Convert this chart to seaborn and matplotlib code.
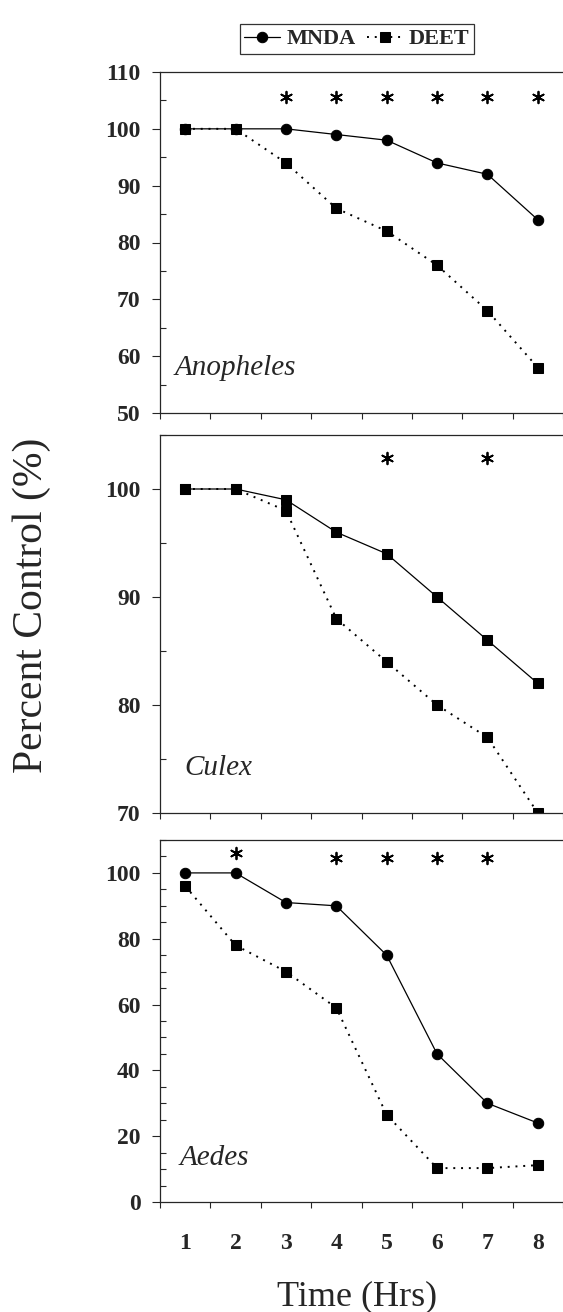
import numpy as np
import matplotlib
matplotlib.use('Agg')
import matplotlib.pyplot as plt
from matplotlib.ticker import MultipleLocator, FixedLocator
import seaborn as sns

# data
hours = [1, 2, 3, 4, 5, 6, 7, 8]

anopheles_mnda = [100, 100, 100, 99, 98, 94, 92, 84]
anopheles_deet = [100, 100, 94, 86, 82, 76, 68, 58]
anopheles_sig = [3, 4, 5, 6, 7, 8]

culex_mnda = [100, 100, 99, 96, 94, 90, 86, 82]
culex_deet = [100, 100, 98, 88, 84, 80, 77, 70]
culex_sig = [5, 7]

aedes_mnda = [100, 100, 91, 90, 75, 45, 30, 24]
aedes_deet = [96, 78, 70, 59, 26.5, 10.3, 10.3, 11.2]
aedes_sig = [2, 4, 5, 6, 7]

sns.set_style('ticks')
plt.rcParams['font.family'] = ['Liberation Serif', 'DejaVu Serif']
plt.rcParams['axes.linewidth'] = 0.9

W, H = 563, 1312
fig = plt.figure(figsize=(W / 100, H / 100), dpi=100)


def box(top, bottom, left=160, right=563):
    return [left / W, 1 - bottom / H, (right - left) / W, (bottom - top) / H]


panels = [
    dict(name='Anopheles', mnda=anopheles_mnda, deet=anopheles_deet, sig=anopheles_sig,
         sig_y=105.6, ylim=(50, 110), major=10, box=box(72, 413), mnda_marker='o',
         label_xy=(0.78, 58)),
    dict(name='Culex', mnda=culex_mnda, deet=culex_deet, sig=culex_sig,
         sig_y=102.9, ylim=(70, 105), major=10, box=box(435, 813), mnda_marker='s',
         label_xy=(0.98, 74.2)),
    dict(name='Aedes', mnda=aedes_mnda, deet=aedes_deet, sig=aedes_sig,
         sig_y=104.5, ylim=(0, 110), major=20, box=box(840, 1202), mnda_marker='o',
         label_xy=(0.88, 13.5)),
]

handles = None
for i, p in enumerate(panels):
    ax = fig.add_axes(p['box'])
    sns.lineplot(x=hours, y=p['mnda'], ax=ax, color='black', linewidth=0.9,
                 linestyle='-', marker=p['mnda_marker'],
                 markersize=7.5 if p['mnda_marker'] == 'o' else 7,
                 markeredgecolor='black', label='MNDA', legend=False)
    sns.lineplot(x=hours, y=p['deet'], ax=ax, color='black', linewidth=1.4,
                 linestyle=(0, (1, 3)), marker='s', markersize=7,
                 markeredgecolor='black', label='DEET', legend=False)
    if i == 2:
        # asterisk over hour 2 sits a bit higher
        ys = [106 if h == 2 else p['sig_y'] for h in p['sig']]
    else:
        ys = [p['sig_y']] * len(p['sig'])
    ax.scatter(p['sig'], ys, marker=(6, 2, 0), s=70, color='black',
               linewidths=1.3, zorder=5)

    ax.set_xlim(0.5, 8.5)
    ax.set_ylim(*p['ylim'])
    ax.yaxis.set_major_locator(MultipleLocator(p['major']))
    ax.yaxis.set_minor_locator(MultipleLocator(5))
    ax.tick_params(axis='y', which='major', direction='out', length=6, width=0.8,
                   pad=8, labelsize=17)
    ax.tick_params(axis='y', which='minor', direction='in', length=4, width=0.8)
    ax.xaxis.set_major_locator(FixedLocator(hours))
    ax.xaxis.set_minor_locator(FixedLocator(np.arange(0.5, 9, 1)))
    ax.tick_params(axis='x', which='major', length=0, pad=22, labelsize=17)
    ax.tick_params(axis='x', which='minor', direction='out', length=4, width=0.8)
    for lab in ax.get_yticklabels() + ax.get_xticklabels():
        lab.set_fontweight('bold')
    if i < 2:
        ax.set_xticklabels([])
    ax.spines['right'].set_visible(False)
    ax.set_xlabel('')
    ax.set_ylabel('')
    ax.text(p['label_xy'][0], p['label_xy'][1], p['name'], fontsize=21,
            style='italic', va='center', ha='left')
    if handles is None:
        handles, labels = ax.get_legend_handles_labels()

leg = fig.legend(handles, labels, loc='center', bbox_to_anchor=(357 / W, 1 - 39 / H),
                 ncol=2, frameon=True, fancybox=False, edgecolor='black',
                 handlelength=1.6, handletextpad=0.3, columnspacing=0.5,
                 borderpad=0.2, borderaxespad=0,
                 prop={'weight': 'bold', 'size': 16})
leg.get_frame().set_linewidth(0.9)

fig.text(32 / W, 1 - 605 / H, 'Percent Control (%)', rotation=90, fontsize=30,
         ha='center', va='center')
fig.text(357 / W, 1 - 1297 / H, 'Time (Hrs)', fontsize=26, ha='center', va='center')

fig.savefig('out.png', dpi=100)
